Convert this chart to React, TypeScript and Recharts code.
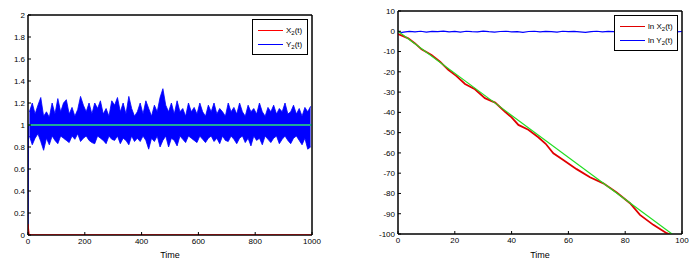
import React from 'react';
import { ComposedChart, Line, Area, XAxis, YAxis, Legend, ReferenceArea } from 'recharts';

// ---------- Left panel data ----------
const leftXTicks = [0, 200, 400, 600, 800, 1000];
const leftYTicks = [0, 0.2, 0.4, 0.6, 0.8, 1, 1.2, 1.4, 1.6, 1.8, 2];

const x2Times = [0, 1, 2, 3, 5, 1000];
const x2Values = [0.1, 0.06, 0.03, 0.01, 0, 0];

const y2StartTimes = [0, 1, 2, 5];
const y2StartValues = [0.05, 0.8, 1.0, 1.0];

// band of Y2(t) sampled at t = 5, 15, ..., 995 : upper (peaks) and lower (troughs)
const y2Upper = [
  1.12, 1.2, 1.1, 1.18, 1.25, 1.08, 1.12, 1.07, 1.2, 1.1,
  1.24, 1.12, 1.2, 1.23, 1.1, 1.16, 1.08, 1.14, 1.26, 1.18,
  1.12, 1.2, 1.1, 1.2, 1.15, 1.22, 1.1, 1.15, 1.08, 1.22,
  1.18, 1.25, 1.12, 1.2, 1.1, 1.26, 1.15, 1.08, 1.12, 1.2,
  1.1, 1.22, 1.15, 1.08, 1.18, 1.12, 1.25, 1.33, 1.18, 1.12,
  1.2, 1.1, 1.22, 1.12, 1.15, 1.08, 1.2, 1.12, 1.16, 1.1,
  1.2, 1.12, 1.08, 1.18, 1.12, 1.2, 1.1, 1.15, 1.12, 1.08,
  1.2, 1.12, 1.16, 1.1, 1.2, 1.12, 1.08, 1.18, 1.12, 1.15,
  1.1, 1.2, 1.12, 1.08, 1.16, 1.12, 1.18, 1.1, 1.15, 1.12,
  1.2, 1.1, 1.12, 1.18, 1.1, 1.15, 1.08, 1.16, 1.12, 1.17,
];
const y2Lower = [
  0.9, 0.82, 0.88, 0.92, 0.85, 0.77, 0.88, 0.82, 0.9, 0.86,
  0.83, 0.9, 0.88, 0.86, 0.84, 0.9, 0.87, 0.92, 0.85, 0.88,
  0.9, 0.86, 0.84, 0.83, 0.9, 0.88, 0.86, 0.83, 0.9, 0.87,
  0.86, 0.9, 0.83, 0.88, 0.86, 0.82, 0.9, 0.85, 0.88, 0.85,
  0.9, 0.86, 0.78, 0.88, 0.85, 0.9, 0.8, 0.86, 0.9, 0.8,
  0.88, 0.86, 0.81, 0.9, 0.87, 0.84, 0.9, 0.88, 0.86, 0.84,
  0.9, 0.87, 0.84, 0.88, 0.9, 0.85, 0.88, 0.83, 0.9, 0.86,
  0.85, 0.9, 0.87, 0.83, 0.88, 0.9, 0.84, 0.88, 0.81, 0.9,
  0.86, 0.88, 0.82, 0.9, 0.87, 0.84, 0.88, 0.9, 0.83, 0.87,
  0.9, 0.86, 0.83, 0.88, 0.9, 0.86, 0.82, 0.88, 0.78, 0.8,
];
const y2Step = 10;

const eqLeftTimes = [0, 1000];
const eqLeftValues = [1, 1];

// ---------- Right panel data ----------
const rightXTicks = [0, 20, 40, 60, 80, 100];
const rightYTicks = [10, 0, -10, -20, -30, -40, -50, -60, -70, -80, -90, -100];

const lnX2Times = [
  0, 2, 3.6, 6, 8.3, 11.8, 14.8, 17.7, 20.5, 23.6, 27.1, 30.6, 34.2, 37.7, 40,
  42.4, 45.9, 49.4, 52, 54.7, 58.2, 62.9, 67.6, 72.3, 77, 81.7, 85.2, 89.9, 94.6, 96,
];
const lnX2Values = [
  -1.4, -2.5, -3.5, -6, -8.9, -11.7, -15, -19, -22, -26, -28.6, -33, -35.2, -39.7, -42.5,
  -46.2, -48.6, -52.3, -55.5, -60.2, -63.5, -68, -72, -75, -79.5, -84.8, -90.6, -95.5, -99.6, -100.5,
];

const lnY2Times = [
  0, 1, 2, 4, 6, 8, 10, 12, 14, 16, 18, 20, 22, 24, 26, 28, 30, 32, 34, 36, 38, 40,
  42, 44, 46, 48, 50, 52, 54, 56, 58, 60, 62, 64, 66, 68, 70, 72, 74, 76, 78, 80,
  82, 84, 86, 88, 90, 92, 94, 96, 98, 100,
];
const lnY2Values = [
  0, -0.7, -0.4, -0.1, -0.3, 0, -0.4, -0.1, -0.2, 0.1, -0.3, -0.1, -0.4, 0, -0.2, -0.3,
  0.1, -0.2, -0.4, -0.1, 0, -0.3, -0.2, -0.5, -0.1, 0, -0.3, -0.1, -0.2, -0.4, 0, -0.2,
  -0.1, -0.3, -0.5, -0.2, 0, -0.3, -0.1, -0.2, -0.4, 0, -0.1, -0.3, -0.2, 0, -0.4, -0.1,
  -0.2, 0, -0.3, -0.1,
];

const fitTimes = [0, 96.5];
const fitValues = [0, -100];

// ---------- helpers ----------
const zip = (ts: number[], vs: number[]) => ts.map((t, i) => ({ t, v: vs[i] }));

const y2Band = y2Upper.map((u, i) => ({ t: i * y2Step + 5, v: [y2Lower[i], u] }));

const FONT = '"Liberation Sans", Arial, sans-serif';
const tickStyle = { fontSize: 8, fill: '#000', fontFamily: FONT };

const Sub = ({ base, tail, prefix }: { base: string; tail: string; prefix?: string }) => (
  <span>
    {prefix}
    {base}
    <span style={{ fontSize: 6, position: 'relative', top: 2 }}>2</span>
    {tail}
  </span>
);

const MatlabLegend = ({ items, width }: { items: { color: string; prefix?: string; base: string }[]; width: number }) => (
  <div
    style={{
      border: '1px solid #000',
      background: '#fff',
      width,
      padding: '3px 0 3px 5px',
      boxSizing: 'border-box',
      fontFamily: FONT,
      fontSize: 8,
      color: '#000',
    }}
  >
    {items.map((it, i) => (
      <div key={i} style={{ display: 'flex', alignItems: 'center', height: 14 }}>
        <div style={{ width: 25, height: 0, borderTop: `1.5px solid ${it.color}`, marginRight: 3 }} />
        <Sub prefix={it.prefix} base={it.base} tail="(t)" />
      </div>
    ))}
  </div>
);

const frameAxes = (xTicks: number[], yTicks: number[], xDomain: number[], yDomain: number[]) => [
  <XAxis
    key="top"
    xAxisId="top"
    orientation="top"
    type="number"
    dataKey="t"
    domain={xDomain}
    ticks={xTicks}
    tick={false}
    tickSize={-3}
    height={1}
    stroke="#000"
    allowDataOverflow
  />,
  <YAxis
    key="right"
    yAxisId="right"
    orientation="right"
    type="number"
    dataKey="v"
    domain={yDomain}
    ticks={yTicks}
    tick={false}
    tickSize={-3}
    width={1}
    stroke="#000"
    allowDataOverflow
  />,
];

export default function App() {
  return (
    <div style={{ position: 'absolute', left: 0, top: 0, width: 697, height: 261, background: '#fff' }}>
      <div style={{ position: 'absolute', left: 0, top: 0 }}>
        <ComposedChart width={330} height={261} margin={{ top: 14, right: 17, bottom: 0, left: 0 }}>
          <XAxis
            type="number"
            dataKey="t"
            domain={[0, 1000]}
            ticks={leftXTicks}
            tickSize={-3}
            tickMargin={6}
            height={26}
            stroke="#000"
            tick={tickStyle}
            label={{ value: 'Time', position: 'insideBottom', offset: 3, style: { fontSize: 9, fill: '#000', fontFamily: FONT } }}
            allowDataOverflow
          />
          <YAxis
            type="number"
            dataKey="v"
            domain={[0, 2]}
            ticks={leftYTicks}
            tickSize={-3}
            tickMargin={6}
            width={28}
            stroke="#000"
            tick={tickStyle}
            allowDataOverflow
          />
          {frameAxes(leftXTicks, leftYTicks, [0, 1000], [0, 2])}
          <ReferenceArea x1={0} x2={1000} y1={0} y2={2} fill="none" stroke="#000" strokeWidth={1} ifOverflow="visible" />
          <Line data={zip(y2StartTimes, y2StartValues)} dataKey="v" stroke="#0000ff" strokeWidth={1.2} dot={false} isAnimationActive={false} />
          <Area data={y2Band} dataKey="v" type="linear" stroke="#0000ff" strokeWidth={0.8} fill="#0000ff" fillOpacity={1} dot={false} activeDot={false} isAnimationActive={false} />
          <Line data={zip(eqLeftTimes, eqLeftValues)} xAxisId="top" yAxisId="right" dataKey="v" stroke="#1fa89a" strokeWidth={2} dot={false} isAnimationActive={false} />
          <Line data={zip(x2Times, x2Values)} dataKey="v" stroke="#ff0000" strokeWidth={1.5} dot={false} isAnimationActive={false} />
          <Legend
            layout="horizontal"
            verticalAlign="middle"
            align="center"
            wrapperStyle={{ left: 252, top: 19, width: 56, height: 34 }}
            content={() => (
              <MatlabLegend
                width={56}
                items={[
                  { color: '#ff0000', base: 'X' },
                  { color: '#0000ff', base: 'Y' },
                ]}
              />
            )}
          />
        </ComposedChart>
      </div>
      <div style={{ position: 'absolute', left: 340, top: 0 }}>
        <ComposedChart width={357} height={261} margin={{ top: 10, right: 14, bottom: 0, left: 0 }}>
          <XAxis
            type="number"
            dataKey="t"
            domain={[0, 100]}
            ticks={rightXTicks}
            tickSize={-3}
            tickMargin={6}
            height={27}
            stroke="#000"
            tick={tickStyle}
            label={{ value: 'Time', position: 'insideBottom', offset: 3, style: { fontSize: 9, fill: '#000', fontFamily: FONT } }}
            allowDataOverflow
          />
          <YAxis
            type="number"
            dataKey="v"
            domain={[-100, 10]}
            ticks={rightYTicks}
            tickSize={-3}
            tickMargin={6}
            width={58}
            stroke="#000"
            tick={tickStyle}
            allowDataOverflow
          />
          {frameAxes(rightXTicks, rightYTicks, [0, 100], [-100, 10])}
          <ReferenceArea x1={0} x2={100} y1={-100} y2={10} fill="none" stroke="#000" strokeWidth={1} ifOverflow="visible" />
          <Line data={zip(lnY2Times, lnY2Values)} dataKey="v" stroke="#0000ff" strokeWidth={1.2} dot={false} isAnimationActive={false} />
          <Line data={zip(lnX2Times, lnX2Values)} dataKey="v" stroke="#e00000" strokeWidth={1.8} dot={false} isAnimationActive={false} />
          <Line data={zip(fitTimes, fitValues)} xAxisId="top" yAxisId="right" dataKey="v" stroke="#22dd22" strokeWidth={1.2} dot={false} isAnimationActive={false} />
          <Legend
            layout="horizontal"
            verticalAlign="middle"
            align="center"
            wrapperStyle={{ left: 274, top: 15, width: 64, height: 35 }}
            content={() => (
              <MatlabLegend
                width={64}
                items={[
                  { color: '#e00000', prefix: 'ln ', base: 'X' },
                  { color: '#0000ff', prefix: 'ln ', base: 'Y' },
                ]}
              />
            )}
          />
        </ComposedChart>
      </div>
    </div>
  );
}
